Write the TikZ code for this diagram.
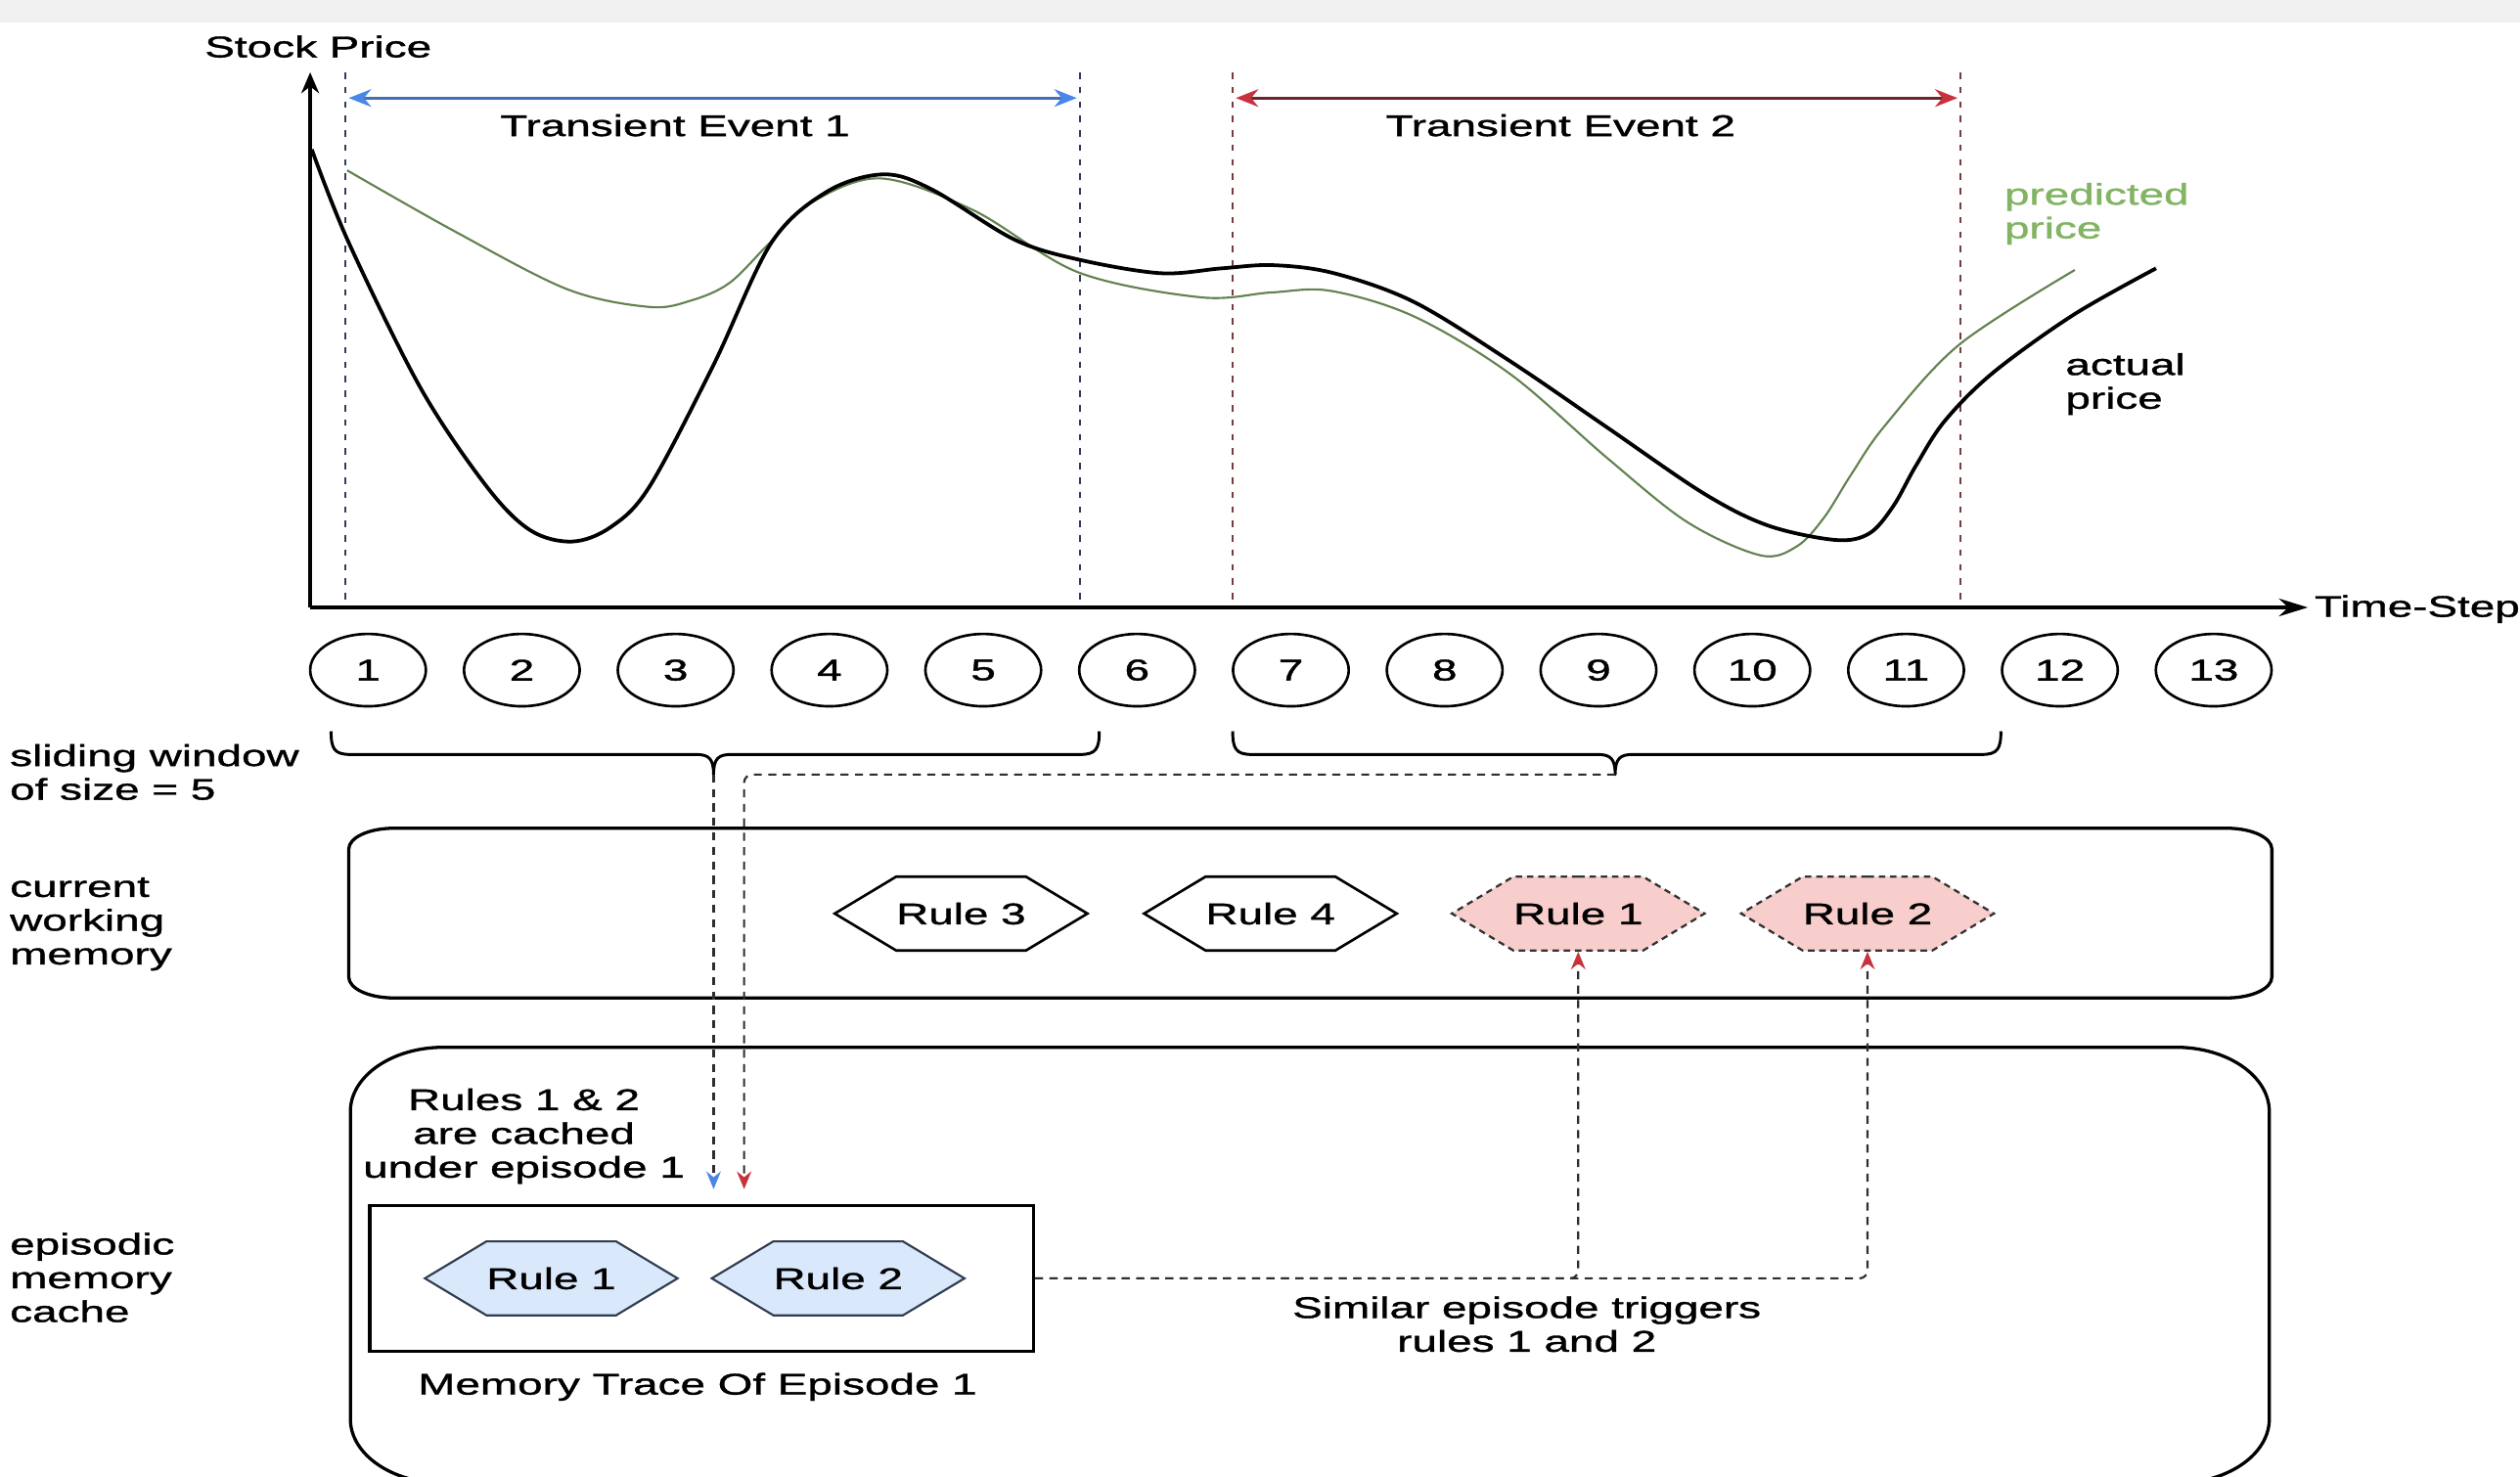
\documentclass[tikz,border=0pt]{standalone}
\usepackage{fontspec}
\setmainfont[FakeStretch=1.5,FakeBold=1.2]{Liberation Sans}
\usetikzlibrary{shapes.geometric,shapes.symbols,arrows.meta}
\definecolor{bandgray}{RGB}{240,240,240}
\definecolor{tipblue}{RGB}{74,134,232}
\definecolor{lineblue}{RGB}{70,110,180}
\definecolor{tipred}{RGB}{200,50,60}
\definecolor{linered}{RGB}{110,35,40}
\definecolor{evblue}{RGB}{50,60,90}
\definecolor{evred}{RGB}{120,60,60}
\definecolor{curvegreen}{RGB}{100,130,80}
\definecolor{textgreen}{RGB}{130,180,100}
\definecolor{pinkfill}{RGB}{248,206,204}
\definecolor{bluefill}{RGB}{218,232,252}
\definecolor{bluedraw}{RGB}{50,60,80}
\definecolor{connline}{RGB}{45,45,50}
\begin{document}
\begin{tikzpicture}[x=1pt,y=-1pt,
  font=\fontsize{18.6}{21}\selectfont,
  every node/.style={inner sep=0},
  tstep/.style={ellipse,draw,line width=1.6pt,minimum width=72pt,minimum height=45pt},
  hexa/.style={signal,signal to=east and west,signal pointer angle=62,minimum width=156pt,minimum height=46pt,draw,line width=1.6pt},
  rulewhite/.style={hexa,fill=white},
  rulepink/.style={hexa,fill=pinkfill,draw=black!80,dash pattern=on 4pt off 3pt,line width=1.4pt},
  ruleblue/.style={hexa,fill=bluefill,draw=bluedraw,line width=1.3pt},
  evline/.style={line width=1.4pt,dash pattern=on 4pt off 5pt},
  conn/.style={line width=1.3pt,draw=connline,dash pattern=on 5pt off 4pt,rounded corners=5pt},
  brace/.style={line width=1.8pt,line join=round},
  boxline/.style={line width=2pt},
  lbl/.style={align=left,anchor=west}]
\clip (0,0) rectangle (1568,919);
\fill[white] (0,0) rectangle (1568,919);
\fill[bandgray] (0,0) rectangle (1568,14);

% axes
\coordinate (O) at (193,378);
\coordinate (ytop) at (193,45);
\coordinate (xend) at (1436,378);
\draw[line width=2.3pt,-{Stealth[length=13pt,width=11pt]}] (O) -- (ytop);
\draw[line width=2.3pt,-{Stealth[length=18pt,width=11pt]}] (O) -- (xend);
\node (sp) at (198,29) {Stock Price};
\node[anchor=west] (ts) at (1440,379) {Time-Step};

% event boundaries
\coordinate (e1t) at (215,45); \coordinate (e1b) at (215,378);
\coordinate (e2t) at (672,45); \coordinate (e2b) at (672,378);
\coordinate (e3t) at (767,45); \coordinate (e3b) at (767,378);
\coordinate (e4t) at (1220,45); \coordinate (e4b) at (1220,378);
\draw[evline,draw=evblue] (e1t) -- (e1b);
\draw[evline,draw=evblue] (e2t) -- (e2b);
\draw[evline,draw=evred] (e3t) -- (e3b);
\draw[evline,draw=evred] (e4t) -- (e4b);
\coordinate (a1l) at (217,61); \coordinate (a1r) at (670,61);
\coordinate (a2l) at (769,61); \coordinate (a2r) at (1218,61);
\draw[line width=1.6pt,draw=lineblue,{Stealth[length=14pt,width=11pt,color=tipblue]}-{Stealth[length=14pt,width=11pt,color=tipblue]}] (a1l) -- (a1r);
\draw[line width=1.6pt,draw=linered,{Stealth[length=14pt,width=11pt,color=tipred]}-{Stealth[length=14pt,width=11pt,color=tipred]}] (a2l) -- (a2r);
\node (te1) at (420,78) {Transient Event 1};
\node (te2) at (971,78) {Transient Event 2};

% curves
\draw[line width=1.3pt,draw=curvegreen] plot[smooth,tension=0.55] coordinates {
 (216,106) (283,144) (353,180) (404,191) (430,187) (454,176) (479,151) (505,126) (548,111)
 (606,131) (671,169.5) (747,185) (791,182) (828,181) (880,197) (940,233) (1000,285)
 (1050,325) (1095.5,345.6) (1118,340) (1135,322) (1152,295) (1172.7,265) (1219,214.5) (1291,168)};
\draw[line width=2.3pt] plot[smooth,tension=0.55] coordinates {
 (194,93) (217,151) (262,242) (303,303) (330,330) (356,337) (380,328) (404,303) (444,227)
 (480,151) (515,119) (550,108.5) (580,118) (631,149) (671,161.5) (722,170) (760,167)
 (792,165) (830,170) (880,188) (940,225) (1000,266) (1060,307) (1100,327) (1142,336)
 (1163,332) (1178,315) (1192,290) (1210,262) (1240,232) (1290,196) (1341.5,167)};
\node[lbl,text=textgreen] (pp) at (1247,133) {predicted\\price};
\node[lbl] (ap) at (1285,239) {actual\\price};

% time steps
\foreach \i in {1,...,13}
  \node[tstep] (t\i) at ({229+95.7*(\i-1)},417) {\i};

% braces
\coordinate (b1) at (444,482);
\coordinate (b2) at (1005,482);
\draw[brace] (206,455) .. controls (206,466) and (208,469.5) .. (218,469.5) -- (433,469.5)
  .. controls (441,469.5) and (444,472) .. (b1)
  .. controls (444,472) and (447,469.5) .. (455,469.5) -- (672,469.5)
  .. controls (682,469.5) and (684,466) .. (684,455);
\draw[brace] (767,455) .. controls (767,466) and (769,469.5) .. (779,469.5) -- (994,469.5)
  .. controls (1002,469.5) and (1005,472) .. (b2)
  .. controls (1005,472) and (1008,469.5) .. (1016,469.5) -- (1233,469.5)
  .. controls (1243,469.5) and (1245,466) .. (1245,455);

% left labels
\node[lbl] (sw) at (6,480.5) {sliding window\\of size = 5};
\node[lbl] (cwm) at (6,575) {current\\working\\memory};
\node[lbl] (emc) at (6,795) {episodic\\memory\\cache};

% current working memory box
\draw[boxline] (245,515.4) -- (1385.6,515.4) .. controls (1401.1,515.4) and (1413.6,521.2) .. (1413.6,528.4)
  -- (1413.6,608) .. controls (1413.6,615.2) and (1401.1,621) .. (1385.6,621)
  -- (245,621) .. controls (229.5,621) and (217,615.2) .. (217,608)
  -- (217,528.4) .. controls (217,521.2) and (229.5,515.4) .. (245,515.4) -- cycle;
% episodic memory box
\draw[boxline] (276,651.7) -- (1354,651.7) .. controls (1386,651.7) and (1412,669.6) .. (1412,691.7)
  -- (1412,883) .. controls (1412,905.1) and (1386,923) .. (1354,923)
  -- (276,923) .. controls (244,923) and (218,905.1) .. (218,883)
  -- (218,691.7) .. controls (218,669.6) and (244,651.7) .. (276,651.7) -- cycle;

% rules in working memory
\node[rulewhite] (r3) at (598,568.5) {Rule 3};
\node[rulewhite] (r4) at (790.5,568.5) {Rule 4};
\node[rulepink] (r1) at (982,568.5) {Rule 1};
\node[rulepink] (r2) at (1162,568.5) {Rule 2};

% memory trace
\node[draw,line width=2pt,minimum width=413pt,minimum height=91pt] (mt) at (436.5,795.5) {};
\node[ruleblue] (m1) at (343,795.5) {Rule 1};
\node[ruleblue] (m2) at (521.5,795.5) {Rule 2};
\node (mtl) at (434,863) {Memory Trace Of Episode 1};
\node[align=center] (cached) at (326,707) {Rules 1 \& 2\\are cached\\under episode 1};
\node[align=center] (sim) at (950,824) {Similar episode triggers\\rules 1 and 2};

% connectors
\coordinate (c1) at (444,740);
\coordinate (c2) at (463,740);
\draw[conn,-{Stealth[length=11pt,width=9pt,color=tipblue]}] (b1) -- (c1);
\draw[conn,-{Stealth[length=11pt,width=9pt,color=tipred]}] (b2) -- (b2 -| c2) -- (c2);
\draw[conn,-{Stealth[length=11pt,width=9pt,color=tipred]}] (mt.east) -- (mt.east -| r1.south) -- (r1.south);
\draw[conn,-{Stealth[length=11pt,width=9pt,color=tipred]}] (mt.east) -- (mt.east -| r2.south) -- (r2.south);
\end{tikzpicture}
\end{document}
